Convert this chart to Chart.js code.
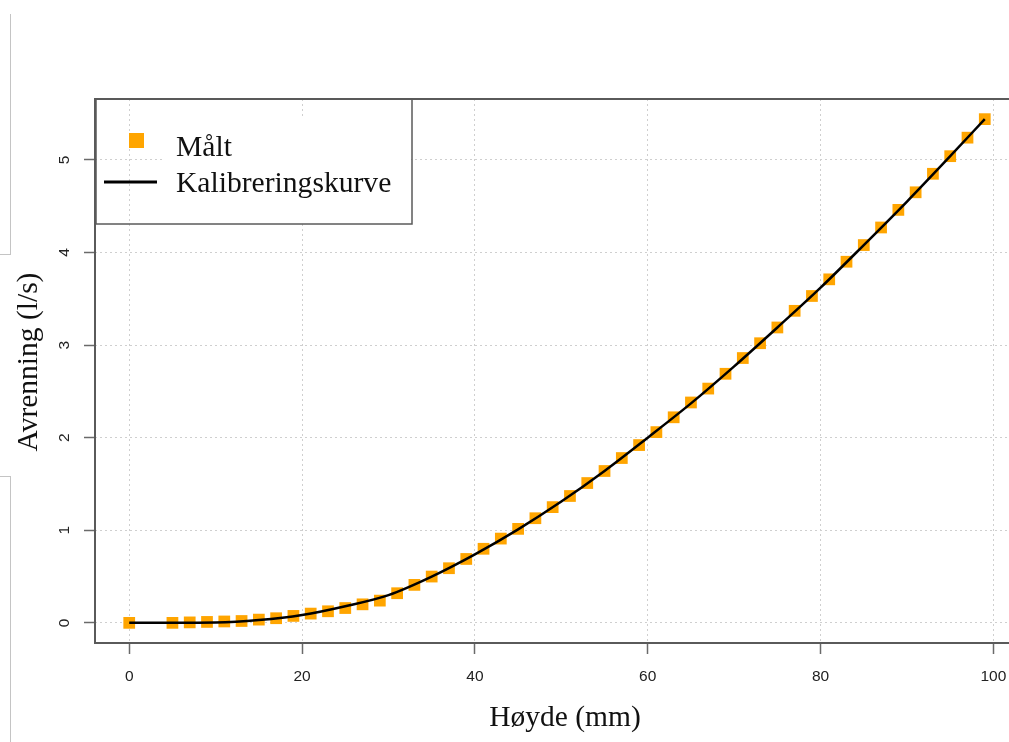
<!DOCTYPE html>
<html>
<head>
<meta charset="utf-8">
<script src="https://cdn.jsdelivr.net/npm/chart.js@4.4.1/dist/chart.umd.min.js"></script>
<style>
  html, body { margin: 0; padding: 0; background: #fff; }
  #wrap { position: relative; width: 1009px; height: 742px; overflow: hidden; }
  #cv { position: absolute; left: 0; top: 0; }
  .edge { position: absolute; border-color: #c4c4c4; border-style: solid; border-width: 0; }
  #edgeTop { left: -1px; top: 14px; width: 11px; height: 240px; border-right-width: 1px; border-bottom-width: 1px; }
  #edgeBottom { left: -1px; top: 476px; width: 11px; height: 280px; border-right-width: 1px; border-top-width: 1px; }
</style>
</head>
<body>
<div id="wrap">
  <canvas id="cv" width="1030" height="742"></canvas>
  <div class="edge" id="edgeTop"></div>
  <div class="edge" id="edgeBottom"></div>
</div>
<script>
// Measured discharge at each water height
const heightMm = [0, 5, 7, 9, 11, 13, 15, 17, 19, 21, 23, 25, 27, 29, 31, 33, 35, 37, 39,
  41, 43, 45, 47, 49, 51, 53, 55, 57, 59, 61, 63, 65, 67, 69, 71, 73, 75, 77, 79,
  81, 83, 85, 87, 89, 91, 93, 95, 97, 99];
const measuredFlow = [0, 0, 0.005, 0.01, 0.015, 0.02, 0.035, 0.05, 0.075, 0.1, 0.125, 0.16, 0.2, 0.24,
  0.32, 0.41, 0.5, 0.59, 0.69, 0.8, 0.91, 1.015, 1.13, 1.25, 1.37, 1.51, 1.64, 1.78, 1.92,
  2.06, 2.22, 2.38, 2.53, 2.69, 2.86, 3.02, 3.19, 3.37, 3.53, 3.71, 3.9, 4.08, 4.27, 4.46,
  4.65, 4.85, 5.04, 5.24, 5.44];

// Calibration curve
const curveHeight = [0, 5, 10, 15, 20, 25, 30, 35, 40, 45, 50, 55, 60, 65, 70, 75, 80, 85, 90, 95, 99];
const curveFlow = [0, 0, 0.003, 0.03, 0.085, 0.18, 0.3, 0.5, 0.74, 1.01, 1.31, 1.64, 2.0, 2.37,
  2.77, 3.19, 3.62, 4.08, 4.55, 5.04, 5.44];

const xTicks = [0, 20, 40, 60, 80, 100];
const yTicks = [0, 1, 2, 3, 4, 5];

const xTitle = 'Høyde (mm)';
const yTitle = 'Avrenning (l/s)';
const legendLabels = ['Målt', 'Kalibreringskurve'];

const ORANGE = '#ffa500';
const SERIF = '"Liberation Serif", "Times New Roman", serif';
const SANS = '"Liberation Sans", Arial, sans-serif';

const toPoints = (xs, ys) => xs.map((x, i) => ({ x, y: ys[i] }));

// Frame, tick labels, axis titles and legend
const decor = {
  id: 'decor',
  afterDraw(chart) {
    const { ctx, chartArea: a, scales: { x, y } } = chart;
    ctx.save();
    // plot frame
    ctx.strokeStyle = '#5a5a5a';
    ctx.lineWidth = 2;
    ctx.strokeRect(a.left, a.top, a.right - a.left, a.bottom - a.top);

    // tick labels
    ctx.fillStyle = '#222';
    ctx.font = '15.5px ' + SANS;
    ctx.textAlign = 'center';
    ctx.textBaseline = 'middle';
    xTicks.forEach(v => ctx.fillText(String(v), x.getPixelForValue(v), 677));
    yTicks.forEach(v => {
      ctx.save();
      ctx.translate(65, y.getPixelForValue(v));
      ctx.rotate(-Math.PI / 2);
      ctx.fillText(String(v), 0, 0);
      ctx.restore();
    });

    // axis titles
    ctx.fillStyle = '#111';
    ctx.font = '29.5px ' + SERIF;
    ctx.textBaseline = 'alphabetic';
    ctx.fillText(xTitle, 565, 726);
    ctx.save();
    ctx.translate(37, 362);
    ctx.rotate(-Math.PI / 2);
    ctx.fillText(yTitle, 0, 0);
    ctx.restore();

    // legend
    ctx.fillStyle = '#fff';
    ctx.fillRect(162, 118, 249, 104);
    ctx.strokeStyle = '#5a5a5a';
    ctx.lineWidth = 1.5;
    ctx.strokeRect(a.left + 1, a.top, 316, 125);
    ctx.fillStyle = ORANGE;
    ctx.fillRect(129, 133, 15, 15);
    ctx.strokeStyle = '#000';
    ctx.lineWidth = 3;
    ctx.beginPath();
    ctx.moveTo(104, 182);
    ctx.lineTo(157, 182);
    ctx.stroke();
    ctx.fillStyle = '#111';
    ctx.textAlign = 'left';
    ctx.font = '29.6px ' + SERIF;
    ctx.fillText(legendLabels[0], 176, 156);
    ctx.fillText(legendLabels[1], 176, 192);
    ctx.restore();
  }
};

const gridStyle = {
  color: '#cfcfcf',
  lineWidth: 1,
  drawTicks: true,
  tickLength: 11,
  tickColor: '#6a6a6a',
  tickWidth: 1.5,
  tickBorderDash: []
};

new Chart(document.getElementById('cv'), {
  type: 'scatter',
  data: {
    datasets: [
      {
        label: legendLabels[0],
        data: toPoints(heightMm, measuredFlow),
        pointStyle: 'rect',
        pointRadius: 8.3,
        pointBorderWidth: 0,
        backgroundColor: ORANGE,
        borderColor: ORANGE,
        order: 2
      },
      {
        label: legendLabels[1],
        data: toPoints(curveHeight, curveFlow),
        showLine: true,
        pointRadius: 0,
        borderColor: '#000',
        borderWidth: 2.5,
        cubicInterpolationMode: 'monotone',
        order: 1
      }
    ]
  },
  options: {
    responsive: false,
    animation: false,
    devicePixelRatio: 1,
    layout: { padding: { top: 99, right: 11, left: 0, bottom: 0 } },
    plugins: { legend: { display: false }, tooltip: { enabled: false } },
    scales: {
      x: {
        type: 'linear',
        min: -3.96,
        max: 102.96,
        afterBuildTicks: s => { s.ticks = xTicks.map(v => ({ value: v })); },
        afterFit: s => { s.height = 99; },
        border: { display: false, dash: [2, 3] },
        grid: gridStyle,
        ticks: { display: false }
      },
      y: {
        type: 'linear',
        min: -0.2176,
        max: 5.6576,
        afterBuildTicks: s => { s.ticks = yTicks.map(v => ({ value: v })); },
        afterFit: s => { s.width = 95; },
        border: { display: false, dash: [2, 3] },
        grid: gridStyle,
        ticks: { display: false }
      }
    }
  },
  plugins: [decor]
});
</script>
</body>
</html>
